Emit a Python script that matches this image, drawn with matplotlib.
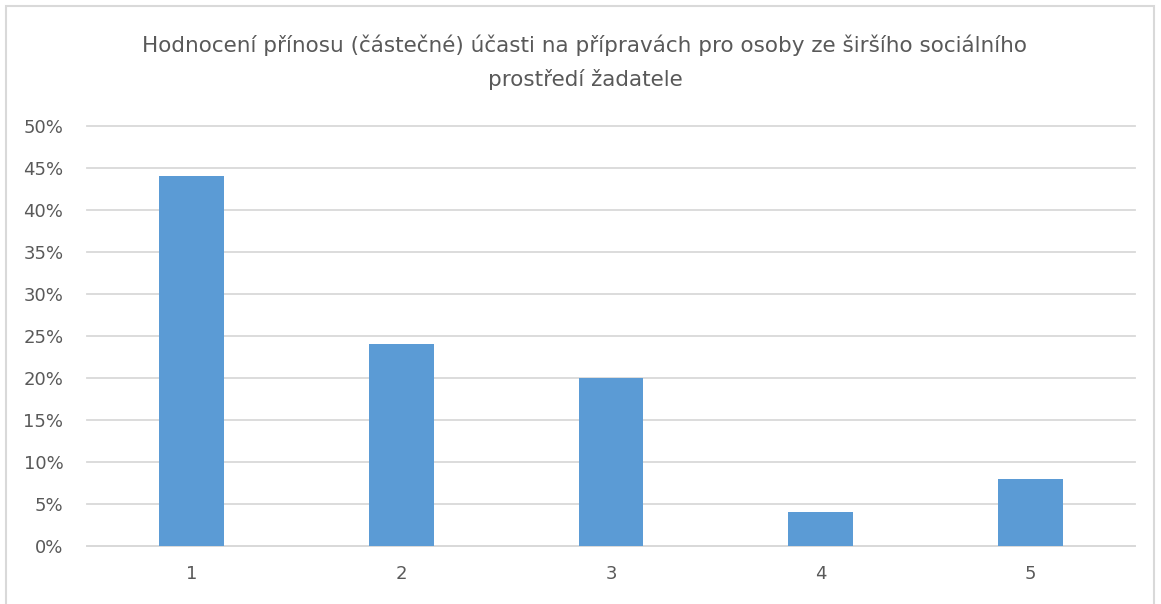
import matplotlib.pyplot as plt
from matplotlib.patches import Rectangle
from matplotlib.ticker import PercentFormatter

categories = ["1", "2", "3", "4", "5"]
shares = [44, 24, 20, 4, 8]
title_lines = ["Hodnocení přínosu (částečné) účasti na přípravách pro osoby ze širšího sociálního",
               "prostředí žadatele"]

text_color = "#595959"
bar_color = "#5B9BD5"
grid_color = "#D9D9D9"

fig = plt.figure(figsize=(11.61, 6.04), dpi=100)
ax = fig.add_axes([87 / 1161, 58 / 604, 1048 / 1161, 420 / 604])

x = range(len(categories))
ax.bar(x, shares, width=0.31, color=bar_color, zorder=3)

ax.set_xlim(-0.5, len(categories) - 0.5)
ax.set_ylim(0, 50)
ax.set_yticks(range(0, 51, 5))
ax.yaxis.set_major_formatter(PercentFormatter(decimals=0))
ax.set_xticks(list(x))
ax.set_xticklabels(categories)
ax.grid(axis="y", color=grid_color, linewidth=1.3, zorder=0)
for line in ax.get_ygridlines():
    line.set_clip_on(False)
for side in ["top", "right", "left"]:
    ax.spines[side].set_visible(False)
ax.spines["bottom"].set_color(grid_color)
ax.spines["bottom"].set_linewidth(1.3)
ax.tick_params(length=0, labelsize=13, colors=text_color)
ax.tick_params(axis="y", pad=17)
ax.tick_params(axis="x", pad=14)

# title, two lines like the original
fig.text(585 / 1161, 1 - 45 / 604, title_lines[0], ha="center", va="center",
         fontsize=15.5, color=text_color)
fig.text(585 / 1161, 1 - 80 / 604, title_lines[1], ha="center", va="center",
         fontsize=15.5, color=text_color)

# chart frame
fig.patches.append(Rectangle((6 / 1161, -0.05), 1148 / 1161, 1.05 - 6 / 604,
                             transform=fig.transFigure, fill=False,
                             edgecolor="#D9D9D9", linewidth=1.5))

fig.savefig("out.png", dpi=100)
